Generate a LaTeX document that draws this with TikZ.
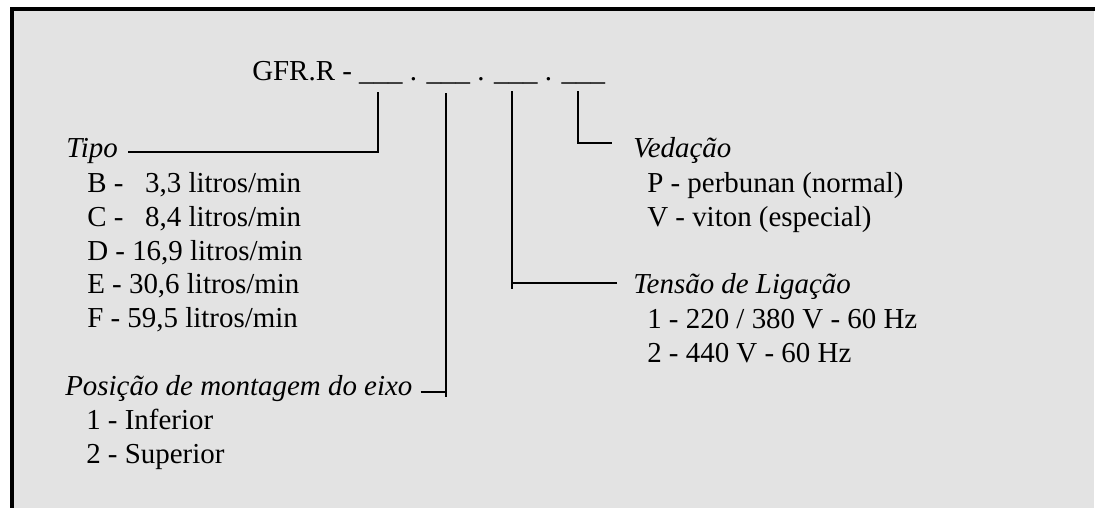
\documentclass[tikz,border=0pt]{standalone}
\usepackage{fontspec}
\setmainfont{Liberation Serif}
\usepackage{tikz}
\usetikzlibrary{positioning, calc}
\definecolor{BG_GRAY}{HTML}{E3E3E3}
\tikzset{
  txt/.style={anchor=base west, inner sep=0pt, font=\fontsize{21.7}{26}\selectfont},
  head/.style={txt, font=\fontsize{21.7}{26}\selectfont\itshape},
  conn/.style={line width=1.2pt, black}
}

\begin{document}
\begin{tikzpicture}[x=0.75pt, y=-0.75pt]
      \useasboundingbox (0,0) rectangle (1095,508);

      % Frame
      \fill[BG_GRAY] (14,11) rectangle (1094,508);
      \fill[black] (10,7) rectangle (1095,11);
      \fill[black] (10,7) rectangle (14,508);

      % Code
      \node[txt] (code) at (252,80) {GFR.R - \_\_\_ . \_\_\_ . \_\_\_ . \_\_\_};
      \coordinate (c1) at (378,92);
      \coordinate (c2) at (446,93);
      \coordinate (c3) at (512,91);
      \coordinate (c4) at (578,91);
      \coordinate (e2) at (446,397);
      \coordinate (e3) at (512,289);

      % Tipo
      \node[head] (tipo) at (66,157) {Tipo};
      \node[txt] (tipoB) at (87,192) {B -\ \hphantom{1}3,3 litros/min};
      \node[txt] (tipoC) at (87,226) {C -\ \hphantom{1}8,4 litros/min};
      \node[txt] (tipoD) at (87,260) {D - 16,9 litros/min};
      \node[txt] (tipoE) at (87,293) {E - 30,6 litros/min};
      \node[txt] (tipoF) at (87,327) {F - 59,5 litros/min};

      % Posicao
      \node[head] (posicao) at (65,395) {Posição de montagem do eixo};
      \node[txt] (pos1) at (86,429) {1 - Inferior};
      \node[txt] (pos2) at (86,463) {2 - Superior};

      % Vedacao
      \node[head] (vedacao) at (633,157) {Vedação};
      \node[txt] (vedP) at (647,192) {P - perbunan (normal)};
      \node[txt] (vedV) at (647,226) {V - viton (especial)};

      % Tensao
      \node[head] (tensao) at (633,293) {Tensão de Ligação};
      \node[txt] (ten1) at (647,328) {1 - 220 / 380 V - 60 Hz};
      \node[txt] (ten2) at (647,362) {2 - 440 V - 60 Hz};

      % Connectors
      \draw[conn] (c1) |- ($(tipo.base east)+(10,-5)$);
      \draw[conn] (c2) -- (e2);
      \draw[conn] ($(posicao.base east)+(8,-3)$) -| (e2);
      \draw[conn] (c3) -- (e3);
      \draw[conn] ($(tensao.base west)+(-16,-10)$) -| (e3);
      \draw[conn] (c4) |- ($(vedacao.base west)+(-21,-14)$);
    \end{tikzpicture}
\end{document}
